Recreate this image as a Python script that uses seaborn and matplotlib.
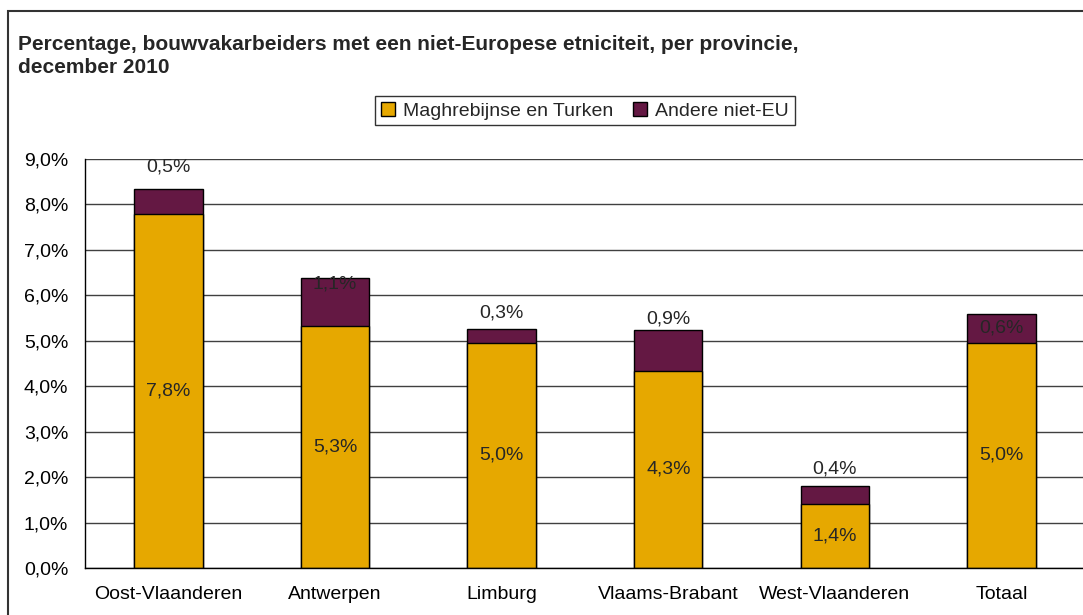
"""
Bouwvakarbeiders met een niet-Europese etniciteit per provincie,
gestapelde staafgrafiek (december 2010)
"""
#%% Libraries
import seaborn as sns
import pandas as pd
import matplotlib.pyplot as plt
from matplotlib.patches import Rectangle, Patch
from matplotlib.ticker import FixedLocator, FuncFormatter

#%% Data (in %)
provincies = ["Oost-Vlaanderen", "Antwerpen", "Limburg",
              "Vlaams-Brabant", "West-Vlaanderen", "Totaal"]
maghreb_turken = [7.80, 5.32, 4.96, 4.34, 1.41, 4.96]
andere_niet_eu = [0.53, 1.06, 0.30, 0.90, 0.40, 0.64]

series_names = ["Maghrebijnse en Turken", "Andere niet-EU"]
title_text = ("Percentage, bouwvakarbeiders met een niet-Europese etniciteit, "
              "per provincie,\ndecember 2010")

data = pd.DataFrame({"Provincie": provincies,
                     "Maghreb": maghreb_turken,
                     "Andere": andere_niet_eu})
data["Totaal"] = data["Maghreb"] + data["Andere"]

#%% Theming
sns.set_style("white")
plt.rcParams['font.family'] = ['Liberation Sans', 'DejaVu Sans']
yellow = "#E6A800"
purple = "#641843"
lbl_size = 14
cat_size = 14

# where the purple labels sit (hand placed in the original), offset in points
purple_label_offset = [16, -4.5, 11.5, 8, 12, None]

fig = plt.figure(figsize=(10.83, 6.15), dpi=100)
ax = fig.add_axes([0.0785, 0.0764, 0.9233, 0.665])

# total bar first (purple), yellow part on top of it
sns.barplot(data=data, x="Provincie", y="Totaal", color=purple,
            width=0.41, edgecolor="black", linewidth=1, saturation=1, ax=ax)
sns.barplot(data=data, x="Provincie", y="Maghreb", color=yellow,
            width=0.41, edgecolor="black", linewidth=1, saturation=1, ax=ax)

ax.set_xlim(-0.5, len(provincies) - 0.5)
ax.set_ylim(0, 9)
ax.set_xlabel("")
ax.set_ylabel("")

# axes styling
ax.set_yticks(range(0, 10))
ax.yaxis.set_major_formatter(FuncFormatter(lambda v, p: f"{v:.1f}%".replace(".", ",")))
ax.yaxis.grid(True, color="#404040", linewidth=1)
ax.set_axisbelow(True)
for side in ["top", "right"]:
    ax.spines[side].set_visible(False)
for side in ["left", "bottom"]:
    ax.spines[side].set_color("black")
    ax.spines[side].set_linewidth(1)
ax.tick_params(axis="y", length=5, width=1, color="black", pad=7,
               labelsize=lbl_size, labelcolor="black")
ax.tick_params(axis="x", which="major", length=0, pad=13,
               labelsize=cat_size, labelcolor="black")
ax.xaxis.set_minor_locator(FixedLocator([i - 0.5 for i in range(len(provincies) + 1)]))
ax.tick_params(axis="x", which="minor", length=5, width=1, color="black")

# value labels
for i, (m, a) in enumerate(zip(maghreb_turken, andere_niet_eu)):
    ax.text(i, m / 2, f"{m:.1f}%".replace(".", ","), ha="center", va="center",
            fontsize=lbl_size)
    off = purple_label_offset[i]
    if off is None:
        ax.text(i, m + a / 2, f"{a:.1f}%".replace(".", ","), ha="center",
                va="center", fontsize=lbl_size)
    else:
        ax.annotate(f"{a:.1f}%".replace(".", ","), xy=(i, m + a),
                    xytext=(0, off), textcoords="offset points",
                    ha="center", va="center", fontsize=lbl_size)

# legend
handles = [Patch(facecolor=yellow, edgecolor="black", linewidth=1),
           Patch(facecolor=purple, edgecolor="black", linewidth=1)]
leg = fig.legend(handles, series_names, loc="center", ncol=2,
                 bbox_to_anchor=(0.540, 0.820), fontsize=lbl_size,
                 frameon=True, fancybox=False, handlelength=0.75,
                 handleheight=0.75, handletextpad=0.4, columnspacing=1.0,
                 borderpad=0.3, borderaxespad=0.4)
leg.get_frame().set_edgecolor("black")
leg.get_frame().set_linewidth(1)

# title
fig.text(0.0166, 0.909, title_text, ha="left", va="center",
         fontsize=15, fontweight="bold", linespacing=1.3)

# outer chart frame
fig.patches.append(Rectangle((0.0074, -0.05), 1.1, 1.032, transform=fig.transFigure,
                             fill=False, edgecolor="#333333", linewidth=1.5))

plt.savefig("out.png", dpi=100)
